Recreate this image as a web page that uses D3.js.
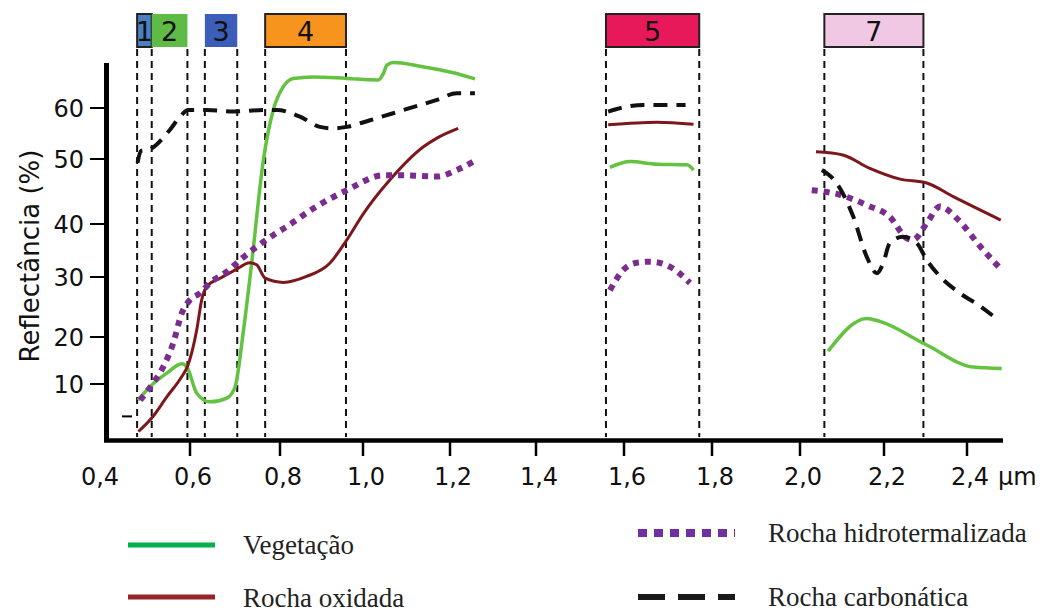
<!DOCTYPE html>
<html>
<head>
<meta charset="utf-8">
<script src="https://cdn.jsdelivr.net/npm/d3@7"></script>
<style>
  html, body { margin: 0; padding: 0; background: #fff; }
  svg { display: block; }
</style>
</head>
<body>
<script>
// ---------------- DATA ----------------
const xTicks = [0.4, 0.6, 0.8, 1.0, 1.2, 1.4, 1.6, 1.8, 2.0, 2.2, 2.4];
const xTickLabels = ["0,4", "0,6", "0,8", "1,0", "1,2", "1,4", "1,6", "1,8", "2,0", "2,2", "2,4"];
const yTicks = [10, 20, 30, 40, 50, 60];
const yTickLabels = ["10", "20", "30", "40", "50", "60"];

const bandNames = ["1", "2", "3", "4", "5", "7"];
const bandStart = [0.477, 0.511, 0.633, 0.767, 1.559, 2.058];
const bandEnd   = [0.511, 0.594, 0.705, 0.959, 1.771, 2.295];

const seriesNames = ["Vegetação", "Rocha oxidada", "Rocha hidrotermalizada", "Rocha carbonática"];

// each series: list of segments, each segment a list of [wavelength µm, reflectance %]
const vegetacao = [
  [[0.479,7.0],[0.507,9.5],[0.546,12.3],[0.581,14.3],[0.594,13.4],[0.615,8.3],[0.644,6.7],[0.682,7.4],[0.700,9.4],[0.719,21.2],[0.737,32.6],[0.763,49.8],[0.785,59.6],[0.808,64.2],[0.832,65.8],[0.880,66.1],[0.961,65.8],[1.035,65.5],[1.047,66.8],[1.055,68.4],[1.070,68.9],[1.131,68.2],[1.208,66.9],[1.258,65.7]],
  [[1.568,48.7],[1.614,49.6],[1.675,49.2],[1.743,49.1],[1.758,48.3]],
  [[2.067,17.0],[2.159,23.1],[2.190,22.6],[2.303,18.3],[2.414,13.6],[2.477,13.3]]
];
const rochaOxidada = [
  [[0.480,1.2],[0.511,3.7],[0.546,7.6],[0.581,11.6],[0.594,13.7],[0.615,21.2],[0.626,26.2],[0.637,28.4],[0.667,29.8],[0.700,31.3],[0.733,32.7],[0.748,32.3],[0.767,29.8],[0.808,29.1],[0.864,30.1],[0.920,32.6],[0.961,37.0],[1.001,41.6],[1.062,46.8],[1.139,52.4],[1.170,54.1],[1.219,56.0]],
  [[1.564,56.7],[1.675,57.2],[1.758,56.8]],
  [[2.038,51.4],[2.102,50.8],[2.165,48.6],[2.239,46.9],[2.303,46.3],[2.367,44.2],[2.475,40.6]]
];
const rochaHidrotermalizada = [
  [[0.484,7.0],[0.511,9.8],[0.538,13.7],[0.561,18.7],[0.581,24.0],[0.600,26.2],[0.622,27.3],[0.644,29.0],[0.682,31.0],[0.711,33.2],[0.748,35.7],[0.785,37.9],[0.816,39.5],[0.888,42.7],[0.961,45.2],[1.047,47.5],[1.093,47.5],[1.170,47.3],[1.216,48.3],[1.254,49.6]],
  [[1.568,27.8],[1.598,31.3],[1.629,32.7],[1.659,32.9],[1.705,31.9],[1.750,29.0]],
  [[2.028,45.2],[2.095,44.5],[2.159,42.9],[2.214,41.1],[2.255,37.3],[2.270,37.0],[2.303,40.1],[2.335,42.7],[2.375,40.9],[2.430,35.7],[2.474,31.6]]
];
const rochaCarbonatica = [
  [[0.478,49.4],[0.486,51.6],[0.503,51.8],[0.553,55.7],[0.577,58.3],[0.596,59.6],[0.637,59.6],[0.696,59.3],[0.763,59.6],[0.793,59.6],[0.848,58.3],[0.896,56.3],[0.928,56.0],[0.961,56.3],[1.016,57.6],[1.093,59.6],[1.170,61.6],[1.216,62.9],[1.258,62.9]],
  [[1.564,59.3],[1.598,60.1],[1.644,60.6],[1.740,60.6]],
  [[2.052,48.3],[2.087,46.3],[2.127,41.1],[2.159,33.8],[2.183,30.7],[2.198,32.6],[2.214,36.4],[2.246,37.6],[2.279,36.4],[2.303,33.2],[2.335,30.1],[2.383,27.3],[2.430,25.1],[2.470,22.8]]
];

// ---------------- STYLES ----------------
const bandFill = ["#4a7fc1", "#5dbb46", "#3c5db8", "#f7941e", "#e8195b", "#f0c8e4"];
const bandBorder = [true, false, false, true, true, true];

const seriesStyle = [
  { data: vegetacao, color: "#63c23f", width: 3.5, dash: null, legColor: "#00b050", legWidth: 5, legDash: null },
  { data: rochaOxidada, color: "#7d171c", width: 3, dash: null, legColor: "#962428", legWidth: 5, legDash: null },
  { data: rochaHidrotermalizada, color: "#7b2d8e", width: 6, dash: "6,6", legColor: "#7030a0", legWidth: 8, legDash: "9,7" },
  { data: rochaCarbonatica, color: "#111", width: 4, dash: "14,9", legColor: "#1a1a1a", legWidth: 6, legDash: "27,13" }
];

// ---------------- CHART ----------------
const W = 1044, H = 615;
const svg = d3.select("body").append("svg").attr("width", W).attr("height", H)
  .style("background", "#fff");

const x = d3.scaleLinear()
  .domain([0.4, 0.6, 0.8, 1.0, 1.2, 1.4, 1.6, 1.8, 2.0, 2.2, 2.4, 2.48])
  .range([104, 190, 280, 363, 450, 536, 624, 712, 800, 884, 967, 1003]);
const y = d3.scaleLinear()
  .domain([0, 10, 20, 30, 40, 50, 60, 70])
  .range([438, 384, 337, 277, 224, 159, 108, 57]);

const tickFont = "'DejaVu Sans', Verdana, sans-serif";

// band dashed lines
const bandEdges = Array.from(new Set(bandStart.concat(bandEnd)));
svg.append("g").selectAll("line").data(bandEdges).join("line")
  .attr("x1", d => x(d)).attr("x2", d => x(d))
  .attr("y1", 49).attr("y2", 437)
  .attr("stroke", "#111").attr("stroke-width", 2)
  .attr("stroke-dasharray", "7,5");

// band boxes
const bandG = svg.append("g").selectAll("g").data(bandNames).join("g");
bandG.append("rect")
  .attr("x", (d, i) => x(bandStart[i]))
  .attr("y", 14)
  .attr("width", (d, i) => x(bandEnd[i]) - x(bandStart[i]))
  .attr("height", 33)
  .attr("fill", (d, i) => bandFill[i])
  .attr("stroke", (d, i) => bandBorder[i] ? "#222" : "none")
  .attr("stroke-width", 2);
bandG.append("text")
  .attr("x", (d, i) => (x(bandStart[i]) + x(bandEnd[i])) / 2)
  .attr("y", 41)
  .attr("text-anchor", "middle")
  .attr("font-family", tickFont)
  .attr("font-size", 27)
  .attr("fill", "#111")
  .text(d => d);

// series lines
const line = d3.line().x(d => x(d[0])).y(d => y(d[1])).curve(d3.curveMonotoneX);
seriesStyle.forEach(s => {
  svg.append("g").selectAll("path").data(s.data).join("path")
    .attr("d", line)
    .attr("fill", "none")
    .attr("stroke", s.color)
    .attr("stroke-width", s.width)
    .attr("stroke-dasharray", s.dash)
    .attr("stroke-linejoin", "round");
});

// axes
const axisG = svg.append("g");
axisG.append("line").attr("x1", x(0.4) + 2.5).attr("x2", x(0.4) + 2.5)
  .attr("y1", 63).attr("y2", 442).attr("stroke", "#000").attr("stroke-width", 5);
axisG.append("line").attr("x1", x(0.4)).attr("x2", x(2.48))
  .attr("y1", 440.5).attr("y2", 440.5).attr("stroke", "#000").attr("stroke-width", 4.5);

// x ticks
axisG.selectAll(".xt").data(xTicks.slice(1)).join("line")
  .attr("x1", d => x(d)).attr("x2", d => x(d))
  .attr("y1", 442).attr("y2", 456)
  .attr("stroke", "#000").attr("stroke-width", 2.5);
axisG.selectAll(".xl").data(xTicks).join("text")
  .attr("x", (d, i) => x(d) + (i === 0 ? -4 : 3)).attr("y", 485)
  .attr("text-anchor", "middle")
  .attr("font-family", tickFont).attr("font-size", 24).attr("fill", "#111")
  .text((d, i) => xTickLabels[i]);
axisG.append("text").attr("x", x(2.4) + 31).attr("y", 485)
  .attr("font-family", tickFont).attr("font-size", 24).attr("fill", "#111")
  .text("µm");

// y ticks
axisG.selectAll(".yt").data(yTicks).join("line")
  .attr("x1", 90).attr("x2", x(0.4) + 1)
  .attr("y1", d => y(d)).attr("y2", d => y(d))
  .attr("stroke", "#000").attr("stroke-width", 2);
axisG.selectAll(".yl").data(yTicks).join("text")
  .attr("x", 84).attr("y", d => y(d) + 9)
  .attr("text-anchor", "end")
  .attr("font-family", tickFont).attr("font-size", 24).attr("fill", "#111")
  .text((d, i) => yTickLabels[i]);
// small stray tick mark near origin
axisG.append("line").attr("x1", 122).attr("x2", 132)
  .attr("y1", y(4.0)).attr("y2", y(4.0)).attr("stroke", "#000").attr("stroke-width", 2);

// y title
svg.append("text")
  .attr("transform", "translate(39,256) rotate(-90)")
  .attr("text-anchor", "middle")
  .attr("font-family", tickFont).attr("font-size", 26).attr("fill", "#111")
  .text("Reflectância (%)");

// legend
const legX = [128, 128, 638, 638];
const legY = [545, 597, 533, 597];
const legLen = [87, 87, 97, 97];
const legTextX = [243, 243, 768, 768];
const legTextY = [554, 607, 542, 606];
seriesStyle.forEach((s, i) => {
  svg.append("line")
    .attr("x1", legX[i]).attr("x2", legX[i] + legLen[i])
    .attr("y1", legY[i]).attr("y2", legY[i])
    .attr("stroke", s.legColor).attr("stroke-width", s.legWidth)
    .attr("stroke-dasharray", s.legDash);
  svg.append("text")
    .attr("x", legTextX[i]).attr("y", legTextY[i])
    .attr("font-family", "'Liberation Serif', 'Times New Roman', serif")
    .attr("font-size", 27).attr("fill", "#222")
    .text(seriesNames[i]);
});
</script>
</body>
</html>
